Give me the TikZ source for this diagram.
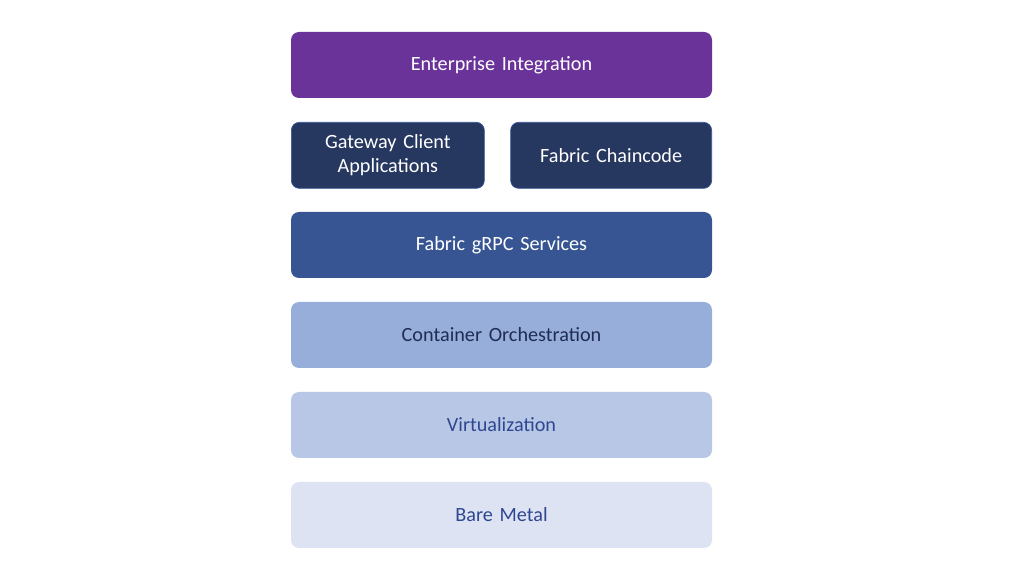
\documentclass[tikz,border=0pt]{standalone}
\usepackage{fontspec}
\setmainfont{Carlito}[WordSpace=0.8]
\usetikzlibrary{positioning}
\definecolor{entpurple}{HTML}{6A3399}
\definecolor{navy}{HTML}{263760}
\definecolor{grpcblue}{HTML}{375593}
\definecolor{orchblue}{HTML}{97ADDA}
\definecolor{virtblue}{HTML}{B9C7E6}
\definecolor{metalblue}{HTML}{DDE3F3}
\definecolor{darktext}{HTML}{1F2D55}
\definecolor{midtext}{HTML}{2E4790}
\tikzset{
  layer/.style={rounded corners=0.16cm, minimum height=1.32cm, inner sep=0pt,
    font=\fontsize{11.5}{13.5}\selectfont, align=center, text width=#1, minimum width=#1},
  layer/.default=8.42cm
}
\begin{document}
\begin{tikzpicture}
\useasboundingbox (0,0) rectangle (20.48,11.54);
\node[layer, fill=entpurple, text=white] (enterprise) at (10.03,10.24) {Enterprise Integration};
\node[layer=3.86cm, fill=navy, draw=grpcblue, text=white, anchor=north west] (gateway) at (5.82,9.10) {Gateway Client\\Applications};
\node[layer=4.02cm, fill=navy, draw=grpcblue, text=white, anchor=north east] (chaincode) at (14.24,9.10) {Fabric Chaincode};
\node[layer, fill=grpcblue, text=white] (grpc) at (10.03,6.64) {Fabric gRPC Services};
\node[layer, fill=orchblue, text=darktext] (orchestration) at (10.03,4.84) {Container Orchestration};
\node[layer, fill=virtblue, text=midtext] (virtualization) at (10.03,3.04) {Virtualization};
\node[layer, fill=metalblue, text=midtext] (metal) at (10.03,1.24) {Bare Metal};
\end{tikzpicture}
\end{document}
